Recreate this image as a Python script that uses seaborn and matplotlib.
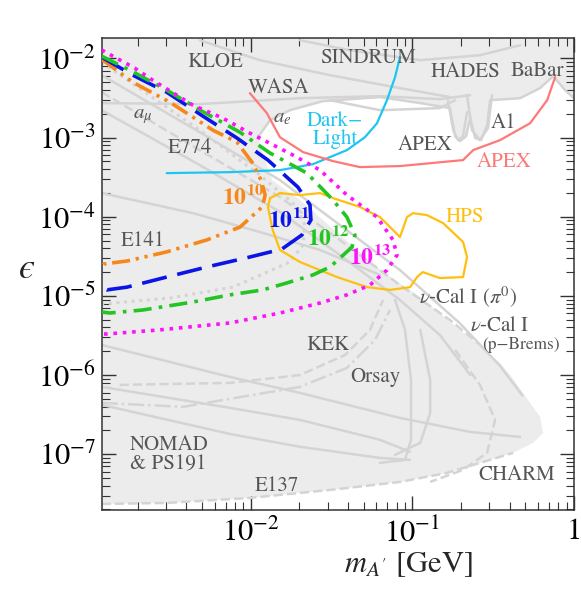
import matplotlib
matplotlib.use("Agg")
import matplotlib.pyplot as plt
from matplotlib.ticker import NullFormatter
import seaborn as sns

# ---------------- data (m in GeV, epsilon) ----------------
# projected sensitivity contours for N = 1e10 ... 1e13
m_1e10 = [1.2e-3, 1.87e-3, 3.17e-3, 5.85e-3, 8.22e-3, 1.02e-2, 1.16e-2, 1.23e-2, 1.18e-2,
          8.6e-3, 5.37e-3, 3.03e-3, 1.72e-3, 1.24e-3, 1.2e-3]
eps_1e10 = [9.8e-3, 5.0e-3, 2.8e-3, 1.24e-3, 8.8e-4, 4.9e-4, 2.9e-4, 1.88e-4, 1.33e-4,
            7.4e-5, 5.1e-5, 3.6e-5, 2.76e-5, 2.53e-5, 2.25e-5]

m_1e11 = [1.2e-3, 1.87e-3, 3.03e-3, 5.07e-3, 8.22e-3, 1.28e-2, 1.96e-2, 2.33e-2, 2.36e-2,
          2.08e-2, 1.56e-2, 9.9e-3, 5.37e-3, 3.03e-3, 1.72e-3, 1.29e-3, 1.2e-3]
eps_1e11 = [1.04e-2, 6.15e-3, 3.75e-3, 1.87e-3, 9.9e-4, 5.2e-4, 2.37e-4, 1.41e-4, 9.1e-5,
            5.9e-5, 3.9e-5, 3.1e-5, 2.32e-5, 1.73e-5, 1.29e-5, 1.19e-5, 1.29e-5]

m_1e12 = [1.2e-3, 1.79e-3, 3.03e-3, 5.0e-3, 8.59e-3, 1.32e-2, 2.23e-2, 3.23e-2, 3.94e-2, 4.42e-2,
          4.24e-2, 3.10e-2, 2.43e-2, 1.68e-2, 1.19e-2, 7.45e-3, 4.40e-3, 2.16e-3, 1.35e-3, 1.2e-3]
eps_1e12 = [1.07e-2, 7.12e-3, 3.98e-3, 2.16e-3, 1.17e-3, 6.37e-4, 3.56e-4, 1.63e-4, 9.9e-5, 5.87e-5,
            4.14e-5, 2.32e-5, 1.84e-5, 1.46e-5, 1.19e-5, 1.03e-5, 8.37e-6, 6.64e-6, 6.08e-6, 6.26e-6]

m_1e13 = [1.2e-3, 1.92e-3, 2.48e-3, 4.40e-3, 6.74e-3, 9.9e-3, 1.83e-2, 2.69e-2, 3.94e-2, 6.05e-2, 7.60e-2,
          8.04e-2, 6.97e-2, 5.47e-2, 3.94e-2, 2.69e-2, 1.52e-2, 7.45e-3, 2.75e-3, 1.29e-3, 1.2e-3]
eps_1e13 = [1.28e-2, 7.55e-3, 5.32e-3, 2.57e-3, 1.76e-3, 1.14e-3, 6.01e-4, 3.88e-4, 1.88e-4, 9.91e-5, 5.08e-5,
            3.28e-5, 2.12e-5, 1.37e-5, 1.03e-5, 8.13e-6, 6.08e-6, 4.55e-6, 3.72e-6, 3.30e-6, 3.30e-6]

# light grey dotted contour
m_dot = [1.2e-3, 4.85e-3, 1.14e-2, 1.83e-2, 2.17e-2, 2.11e-2, 1.75e-2, 7.77e-3, 3.17e-3, 1.2e-3]
eps_dot = [8.98e-3, 1.24e-3, 3.36e-4, 1.49e-4, 7.85e-5, 4.40e-5, 2.68e-5, 1.29e-5, 9.4e-6, 7.9e-6]

# other future experiments
m_darklight = [3.03e-3, 7.45e-3, 1.52e-2, 2.43e-2, 3.94e-2, 5.09e-2, 6.05e-2, 6.97e-2, 7.82e-2, 8.39e-2]
eps_darklight = [3.56e-4, 3.66e-4, 3.88e-4, 4.62e-4, 6.95e-4, 1.01e-3, 1.52e-3, 2.97e-3, 5.80e-3, 1.04e-2]

m_apex = [9.9e-3, 1.26e-2, 1.52e-2, 2.11e-2, 3.23e-2, 4.74e-2, 8.39e-2, 0.206, 0.238, 0.349, 0.535, 0.682, 0.764]
eps_apex = [3.65e-3, 2.04e-3, 1.01e-3, 6.56e-4, 5.05e-4, 4.24e-4, 4.37e-4, 5.20e-4, 6.95e-4, 9.30e-4,
            1.52e-3, 2.97e-3, 5.80e-3]

m_hps = [1.32e-2, 1.52e-2, 2.02e-2, 2.69e-2, 3.23e-2, 4.74e-2, 6.31e-2, 8.39e-2, 9.27e-2, 0.101, 0.123,
         0.155, 0.206, 0.218, 0.206, 0.148, 0.116, 0.107, 9.68e-2, 7.28e-2, 5.25e-2, 3.42e-2, 2.02e-2,
         1.52e-2, 1.37e-2, 1.28e-2, 1.32e-2]
eps_hps = [1.72e-4, 1.99e-4, 1.88e-4, 1.99e-4, 1.72e-4, 1.33e-4, 9.91e-5, 5.54e-5, 9.91e-5, 1.11e-4, 1.05e-4,
           8.32e-5, 4.80e-5, 3.10e-5, 1.73e-5, 1.68e-5, 2.00e-5, 1.73e-5, 1.29e-5, 1.19e-5, 1.29e-5, 1.73e-5,
           2.68e-5, 3.80e-5, 6.79e-5, 1.33e-4, 1.72e-4]

# edges of the excluded (grey) regions
m_band = [1.11e-2, 1.32e-2, 1.75e-2, 2.80e-2, 6.31e-2, 0.112, 0.171, 0.184, 0.197, 0.215, 0.228, 0.245,
          0.266, 0.290, 0.303, 0.464, 0.617, 0.743, 0.881, 1.0]
eps_band = [1.01e-3, 1.66e-3, 2.22e-3, 2.89e-3, 3.25e-3, 2.73e-3, 2.36e-3, 1.04e-3, 9.03e-4, 1.04e-3, 1.76e-3,
            9.86e-4, 9.30e-4, 1.44e-3, 2.97e-3, 3.15e-3, 4.22e-3, 5.98e-3, 3.98e-3, 3.15e-3]

m_dump = [1.2e-3, 3.03e-3, 9.9e-3, 2.02e-2, 3.10e-2, 8.39e-2, 0.164, 0.262, 0.420, 0.558, 0.644, 0.617,
          0.484, 0.403, 0.349, 0.197, 0.112, 6.59e-2, 3.57e-2, 2.02e-2, 1.36e-2, 1.23e-2, 1.11e-2]
eps_dump = [2.35e-8, 2.42e-8, 2.80e-8, 3.24e-8, 3.53e-8, 4.46e-8, 5.80e-8, 7.76e-8, 1.04e-7, 1.39e-7, 1.86e-7,
            2.96e-7, 5.94e-7, 1.0e-6, 1.42e-6, 3.72e-6, 9.68e-6, 2.00e-5, 5.87e-5, 1.63e-4, 2.90e-4, 5.20e-4, 1.01e-3]

# grey boundary lines of individual experiments: (m, eps, linestyle)
grey_lines = [
    # upper band (KLOE, WASA, SINDRUM, HADES, A1, BaBar, a_mu)
    ([1.2e-3, 4.85e-3, 2.02e-2, 6.31e-2, 0.148, 0.228], [2.73e-3, 2.65e-3, 3.15e-3, 3.34e-3, 3.06e-3, 3.44e-3], "-"),
    ([4.85e-3, 1.14e-2, 3.10e-2, 8.39e-2, 0.171], [1.70e-2, 9.52e-3, 6.15e-3, 4.22e-3, 3.25e-3], "-"),
    ([2.02e-2, 4.11e-2, 0.112, 0.262, 0.464], [1.70e-2, 1.27e-2, 9.52e-3, 1.10e-2, 1.47e-2], "-"),
    ([3.10e-2, 6.31e-2, 0.148, 0.184], [2.97e-3, 2.22e-3, 2.36e-3, 2.97e-3], "-"),
    ([0.166, 0.179, 0.192, 0.206, 0.218], [2.97e-3, 1.24e-3, 9.30e-4, 1.04e-3, 2.10e-3], "-"),
    ([0.218, 0.234, 0.262, 0.294, 0.311], [3.44e-3, 1.24e-3, 9.30e-4, 1.32e-3, 3.44e-3], "-"),
    # diagonal beam-dump / g-2 lines
    ([1.2e-3, 4.85e-3, 1.52e-2, 3.57e-2, 8.39e-2, 0.197, 0.349, 0.48],
     [6.15e-3, 1.17e-3, 2.90e-4, 7.85e-5, 2.12e-5, 4.5e-6, 1.3e-6, 5.5e-7], "-"),
    ([1.2e-3, 4.85e-3, 1.52e-2, 3.57e-2, 8.39e-2, 0.171, 0.262],
     [3.75e-3, 6.95e-4, 1.77e-4, 5.08e-5, 1.37e-5, 4.96e-6, 2.40e-6], "--"),
    ([1.2e-3, 4.85e-3, 1.52e-2, 3.57e-2, 8.39e-2, 0.148, 0.228],
     [2.22e-3, 4.50e-4, 1.15e-4, 3.28e-5, 8.87e-6, 3.21e-6, 1.0e-6], "-"),
    ([1.2e-3, 4.40e-3, 1.14e-2, 2.69e-2, 6.31e-2], [1.99e-4, 1.11e-4, 6.41e-5, 3.80e-5, 1.84e-5], "-"),
    # lower beam-dump region (NOMAD, PS191, KEK, Orsay, nu-Cal, CHARM)
    ([1.2e-3, 7.45e-3, 2.02e-2, 8.39e-2, 0.228, 0.464], [2.40e-6, 9.46e-7, 5.94e-7, 2.87e-7, 1.91e-7, 1.65e-7], "-"),
    ([1.2e-3, 7.45e-3, 2.02e-2, 6.31e-2, 9.68e-2], [7.08e-7, 3.85e-7, 2.71e-7, 1.52e-7, 1.07e-7], "-"),
    ([1.2e-3, 7.45e-3, 2.02e-2, 6.31e-2, 9.68e-2], [4.20e-7, 1.80e-7, 1.24e-7, 8.97e-8, 8.47e-8], "-"),
    ([1.55e-3, 7.45e-3, 2.02e-2, 3.84e-2, 5.47e-2, 6.59e-2], [7.50e-7, 7.95e-7, 1.0e-6, 1.79e-6, 3.72e-6, 8.87e-6], "--"),
    ([1.2e-3, 3.81e-3, 2.02e-2, 3.94e-2, 5.87e-2, 7.28e-2], [4.45e-7, 3.96e-7, 7.08e-7, 1.23e-6, 2.77e-6, 6.64e-6], "-."),
    ([6.31e-2, 9.01e-2, 9.82e-2, 9.82e-2, 9.01e-2, 7.82e-2], [7.76e-8, 8.47e-8, 1.52e-7, 8.67e-7, 3.72e-6, 8.87e-6], "-"),
    ([0.112, 0.129, 0.129, 0.112, 7.82e-2], [3.72e-6, 8.67e-7, 3.32e-7, 1.39e-7, 9.8e-8], "-"),
    ([0.184, 0.262, 0.325, 0.290, 0.206, 0.129], [2.07e-6, 7.50e-7, 2.71e-7, 1.04e-7, 6.33e-8, 4.46e-8], "--"),
]

# grey labels of the excluded regions: (text, m, eps)
labels = [
    ("KLOE", 6.01e-3, 8.98e-3), ("SINDRUM", 5.32e-2, 1.01e-2), ("HADES", 0.212, 6.71e-3),
    ("BaBar", 0.591, 6.92e-3), ("WASA", 1.50e-2, 4.22e-3), ("A1", 0.364, 1.52e-3),
    ("APEX", 0.120, 8.04e-4), (r"$a_\mu$", 2.16e-3, 1.87e-3), (r"$a_e$", 1.58e-2, 1.81e-3),
    ("E774", 4.21e-3, 7.37e-4), ("E141", 2.16e-3, 4.93e-5),
    (r"$\nu$-Cal I ($\pi^0$)", 0.221, 9.68e-6), (r"$\nu$-Cal I", 0.349, 4.17e-6),
    ("KEK", 3.01e-2, 2.40e-6), ("Orsay", 5.87e-2, 9.46e-7), ("E137", 1.45e-2, 3.97e-8),
    ("CHARM", 0.445, 5.48e-8),
]
n_labels = [r"$\mathbf{10}^{\mathbf{10}}$", r"$\mathbf{10}^{\mathbf{11}}$",
            r"$\mathbf{10}^{\mathbf{12}}$", r"$\mathbf{10}^{\mathbf{13}}$"]
n_label_m = [8.96e-3, 1.73e-2, 3.01e-2, 5.47e-2]
n_label_eps = [1.77e-4, 9.08e-5, 5.38e-5, 3.10e-5]

x_ticks = [1e-2, 1e-1, 1]
x_ticklabels = [r"$10^{-2}$", r"$10^{-1}$", "1"]
y_ticks = [1e-7, 1e-6, 1e-5, 1e-4, 1e-3, 1e-2]
y_ticklabels = [r"$10^{-7}$", r"$10^{-6}$", r"$10^{-5}$", r"$10^{-4}$", r"$10^{-3}$", r"$10^{-2}$"]

# ---------------- plotting ----------------
sns.set_style("ticks")
plt.rcParams["font.family"] = ["STIXGeneral", "Liberation Serif", "DejaVu Serif"]
plt.rcParams["mathtext.fontset"] = "stix"

GREY_FILL = "#ececec"
GREY_LINE = "#d4d4d4"
TXT = "#555555"

fig, ax = plt.subplots(figsize=(5.81, 5.92), dpi=100)
fig.subplots_adjust(left=0.175, right=0.988, bottom=0.1385, top=0.936)
ax.set_xscale("log")
ax.set_yscale("log")
ax.set_xlim(1.2e-3, 1.0)
ax.set_ylim(1.97e-8, 1.82e-2)
ax.set_facecolor(GREY_FILL)

# allowed (white) window cut out of the grey background
win_m = m_band + [1.0, 1e-3, 1e-3] + m_dump
win_eps = eps_band + [1e-9, 1e-9, eps_dump[0]] + eps_dump
ax.fill(win_m, win_eps, color="white", lw=0, zorder=0.5)


def line(m, eps, color, lw, ls, z=2):
    sns.lineplot(x=m, y=eps, sort=False, estimator=None, color=color,
                 linewidth=lw, linestyle=ls, ax=ax, zorder=z)


for gm, geps, ls in grey_lines:
    line(gm, geps, GREY_LINE, 1.8, ls, z=1)
line(m_band, eps_band, GREY_LINE, 1.8, "-", z=1)
line(m_dump[:9], eps_dump[:9], GREY_LINE, 1.8, "--", z=1)
line(m_dot, eps_dot, GREY_LINE, 2.2, (0, (1, 1.5)), z=1)

line(m_darklight, eps_darklight, "#1ec5f2", 1.6, "-", z=2)
line(m_apex, eps_apex, "#ff7878", 1.6, "-", z=2)
line(m_hps, eps_hps, "#ffbf10", 1.6, "-", z=2)

line(m_1e10, eps_1e10, "#f7871b", 2.6, (0, (5, 1.6, 0.9, 1.6, 0.9, 1.6)), z=3)
line(m_1e11, eps_1e11, "#0a14e6", 2.6, (0, (7, 3)), z=3)
line(m_1e12, eps_1e12, "#22c522", 2.6, (0, (5, 2, 1, 2)), z=3)
line(m_1e13, eps_1e13, "#ff10ff", 2.6, (0, (1, 1.6)), z=3)

for txt, lm, le in labels:
    ax.text(lm, le, txt, color=TXT, fontsize=15, ha="center", va="center", zorder=4)
ax.text(0.470, 2.40e-6, "(p\u2212Brems)", color=TXT, fontsize=12.5, ha="center", va="center", zorder=4)
ax.text(1.79e-3, 9.8e-8, "NOMAD\n& PS191", color=TXT, fontsize=15, ha="left", va="center",
        linespacing=1.0, zorder=4)
ax.text(0.368, 4.91e-4, "APEX", color="#ff7878", fontsize=15, ha="center", va="center", zorder=4)
ax.text(3.32e-2, 1.24e-3, "Dark\u2212\nLight", color="#1ec5f2", fontsize=15, ha="center", va="center",
        linespacing=0.9, zorder=4)
ax.text(0.212, 9.91e-5, "HPS", color="#ffbf10", fontsize=15, ha="center", va="center", zorder=4)

for txt, lm, le, col in zip(n_labels, n_label_m, n_label_eps, ["#f7871b", "#0a14e6", "#22c522", "#ff10ff"]):
    ax.text(lm, le, txt, color=col, fontsize=17, ha="center", va="center", zorder=5)

ax.set_xticks(x_ticks)
ax.set_xticklabels(x_ticklabels)
ax.set_yticks(y_ticks)
ax.set_yticklabels(y_ticklabels)
ax.xaxis.set_minor_formatter(NullFormatter())
ax.yaxis.set_minor_formatter(NullFormatter())
ax.tick_params(which="both", direction="in", top=True, right=True, colors="#333333", labelsize=22)
ax.tick_params(which="major", length=10, width=1.0)
ax.tick_params(which="minor", length=5.5, width=0.8)
ax.tick_params(axis="x", pad=6)
ax.tick_params(axis="y", pad=4)
ax.tick_params(labelcolor="black")
for s in ax.spines.values():
    s.set_color("#333333")
    s.set_linewidth(1.1)

ax.set_xlabel(r"$m_{A^{\prime}}$ [GeV]", fontsize=22)
ax.xaxis.set_label_coords(0.65, -0.085)
ax.set_ylabel("$\u03f5$", fontsize=26, rotation=0, ha="center", va="center")
ax.yaxis.set_label_coords(-0.16, 0.51)

fig.savefig("out.png", dpi=100)
